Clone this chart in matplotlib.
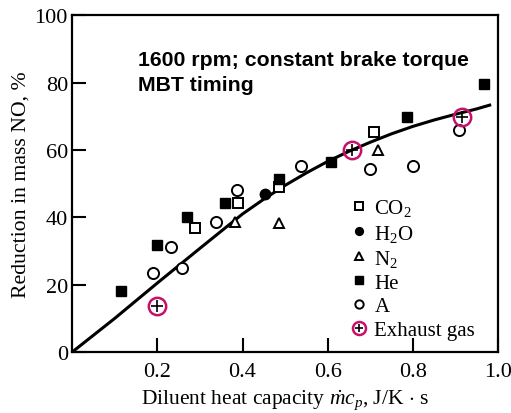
import numpy as np
import matplotlib.pyplot as plt
from matplotlib.lines import Line2D

plt.rcParams['font.family'] = 'Liberation Serif'
plt.rcParams['mathtext.fontset'] = 'custom'
plt.rcParams['mathtext.rm'] = 'Liberation Serif'
plt.rcParams['mathtext.it'] = 'Liberation Serif:italic'

# data
co2_x = [0.288, 0.39, 0.486, 0.708]
co2_y = [36.8, 44.2, 49.0, 65.3]

h2o_x = [0.453]
h2o_y = [46.9]

n2_x = [0.382, 0.486, 0.717]
n2_y = [38.6, 38.3, 60.0]

he_x = [0.116, 0.20, 0.269, 0.36, 0.486, 0.608, 0.785, 0.967]
he_y = [18.1, 31.7, 40.0, 44.2, 51.3, 56.4, 69.7, 79.5]

ar_x = [0.189, 0.233, 0.257, 0.337, 0.387, 0.538, 0.698, 0.80, 0.908]
ar_y = [23.4, 31.1, 24.9, 38.6, 48.0, 55.2, 54.3, 55.2, 65.9]

exh_x = [0.20, 0.658, 0.915]
exh_y = [13.7, 60.0, 69.7]

# fitted curve, points
curve_x = [0, 0.1, 0.2, 0.3, 0.4, 0.45, 0.5, 0.55, 0.6, 0.65, 0.7, 0.75, 0.8, 0.85, 0.9, 0.95, 0.98]
curve_y = [0, 10, 20.5, 30.8, 41, 45.4, 49.5, 53.2, 56.6, 59.6, 62.3, 64.8, 67.0, 68.9, 70.6, 72.2, 73.3]

magenta = '#c8106a'

fig = plt.figure(figsize=(5.11, 4.14), dpi=100)
ax = fig.add_axes([0.141, 0.147, 0.834, 0.814])

ax.plot(curve_x, curve_y, color='black', lw=2.2, zorder=2)

ms = 7.5
h_co2, = ax.plot(co2_x, co2_y, 's', ms=ms, mfc='white', mec='black', mew=1.4, ls='none', zorder=3)
h_h2o, = ax.plot(h2o_x, h2o_y, 'o', ms=ms, mfc='black', mec='black', ls='none', zorder=3)
h_n2, = ax.plot(n2_x, n2_y, '^', ms=ms, mfc='white', mec='black', mew=1.4, ls='none', zorder=3)
h_he, = ax.plot(he_x, he_y, 's', ms=ms, mfc='black', mec='black', ls='none', zorder=3)
h_ar, = ax.plot(ar_x, ar_y, 'o', ms=8, mfc='white', mec='black', mew=1.4, ls='none', zorder=3)
h_ex1, = ax.plot(exh_x, exh_y, 'o', ms=12.5, mfc='none', mec=magenta, mew=1.8, ls='none', zorder=4)
h_ex2, = ax.plot(exh_x, exh_y, '+', ms=8, mec='black', mew=1.2, ls='none', zorder=4)

ax.legend([h_co2, h_h2o, h_n2, h_he, h_ar, (h_ex1, h_ex2)],
          ['CO$_2$', 'H$_2$O', 'N$_2$', 'He', 'A', 'Exhaust gas'],
          loc='upper left', bbox_to_anchor=(0.629, 0.49), frameon=False,
          fontsize=15, markerscale=0.75, handlelength=0.8, handletextpad=0.35,
          labelspacing=0.2, borderpad=0)

ax.text(0.155, 0.898, '1600 rpm; constant brake torque\nMBT timing',
        transform=ax.transAxes, family='Liberation Sans', fontweight='bold',
        fontsize=15.3, va='top', ha='left', linespacing=1.45)

ax.set_xlim(0, 1.0)
ax.set_ylim(0, 100)
ax.set_xticks([0.2, 0.4, 0.6, 0.8, 1.0])
ax.set_xticklabels(['0.2', '0.4', '0.6', '0.8', '1.0'])
ax.set_yticks([0, 20, 40, 60, 80, 100])
ax.tick_params(direction='in', length=10, width=1.5, labelsize=16)
ax.tick_params(axis='x', pad=7)
ax.tick_params(axis='y', pad=3)
for s in ax.spines.values():
    s.set_linewidth(1.6)

ax.set_xlabel(r'Diluent heat capacity $\dot{m}c_p$, J/K $\cdot$ s', fontsize=15.5, labelpad=5)
ax.set_ylabel('Reduction in mass NO, %', fontsize=15.7, labelpad=3)

fig.savefig('out.png', dpi=100)
